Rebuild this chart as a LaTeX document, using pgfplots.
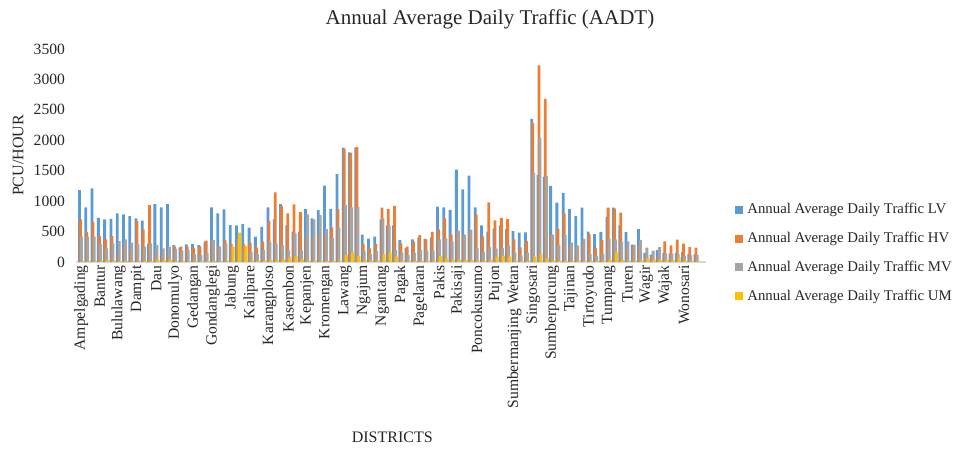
\documentclass[border=0pt]{standalone}
\usepackage{fontspec}
\setmainfont{Liberation Serif}
\usepackage{pgfplots}
\usepackage{pgfplotstable}
\pgfplotsset{compat=1.18}
\definecolor{cLV}{HTML}{5B9BD5}
\definecolor{cHV}{HTML}{ED7D31}
\definecolor{cMV}{HTML}{A5A5A5}
\definecolor{cUM}{HTML}{FFC000}
\definecolor{txt}{HTML}{262626}

\pgfplotstableread{
i LV HV MV UM
0 1180 700 415 10
1 897 497 415 10
2 1208 661 415 10
3 727 426 295 15
4 700 372 224 30
5 710 426 306 20
6 798 150 344 10
7 782 280 372 10
8 754 200 317 10
9 716 672 295 10
10 678 536 251 15
11 300 935 306 10
12 951 150 279 40
13 897 120 224 30
14 951 150 251 40
15 279 251 213 10
16 240 251 186 10
17 290 251 195 10
18 295 235 131 10
19 279 251 115 10
20 330 350 150 10
21 897 330 361 10
22 798 262 251 10
23 864 361 306 10
24 607 295 250 251
25 600 306 380 481
26 623 290 200 262
27 563 317 172 20
28 415 235 131 20
29 579 333 200 20
30 897 672 333 30
31 700 1143 306 40
32 951 924 279 44
33 600 798 191 82
34 500 946 470 98
35 500 820 191 44
36 869 400 782 20
37 716 400 700 20
38 852 450 771 20
39 1254 450 540 20
40 875 568 394 20
41 1443 869 563 20
42 1880 1864 933 112
43 1800 1788 897 153
44 1880 1891 907 98
45 450 298 186 30
46 383 224 131 20
47 415 298 180 20
48 700 894 720 126
49 600 869 596 153
50 600 924 197 87
51 361 306 153 20
52 230 251 115 20
53 372 333 150 20
54 400 443 197 20
55 380 372 190 20
56 400 497 190 20
57 910 536 372 98
58 897 716 388 60
59 858 450 333 40
60 1519 500 514 40
61 1192 450 450 30
62 1421 500 530 30
63 897 780 232 20
64 601 420 170 20
65 500 980 246 40
66 547 684 219 87
67 600 727 230 104
68 542 705 274 87
69 508 372 153 20
70 484 241 110 20
71 487 344 153 20
72 2352 2280 1465 87
73 1430 3230 2040 126
74 1400 2680 1410 55
75 1250 450 448 20
76 974 544 282 20
77 1137 795 440 20
78 869 250 317 20
79 754 241 274 20
80 895 300 378 20
81 500 454 134 20
82 456 236 104 20
83 495 358 137 20
84 740 895 385 40
85 895 878 370 158
86 600 812 333 40
87 490 250 340 20
88 284 262 284 20
89 541 250 364 20
90 150 110 238 59
91 120 100 186 40
92 197 100 243 30
93 150 339 140 40
94 137 274 137 30
95 150 366 130 71
96 164 301 98 20
97 130 246 115 20
98 130 238 115 20
}\aadt

\begin{document}
\begin{tikzpicture}
\useasboundingbox (0,0) rectangle (489.5pt,224.5pt);
\begin{axis}[
  at={(38pt,93.5pt)}, anchor=south west,
  scale only axis, width=315pt, height=106.5pt,
  xmin=-0.8, xmax=99.5, ymin=0, ymax=3500,
  ytick={0,500,...,3500},
  xtick={0,3,...,96},
  xticklabels={Ampelgading,Bantur,Bululawang,Dampit,Dau,Donomulyo,Gedangan,Gondanglegi,Jabung,Kalipare,Karangploso,Kasembon,Kepanjen,Kromengan,Lawang,Ngajum,Ngantang,Pagak,Pagelaran,Pakis,Pakisaji,Poncokusumo,Pujon,Sumbermanjing Wetan,Singosari,Sumberpucung,Tajinan,Tirtoyudo,Tumpang,Turen,Wagir,Wajak,Wonosari},
  x tick label style={rotate=90, anchor=east, font=\fontsize{7.8}{9}\selectfont, text=txt, inner sep=1.5pt},
  y tick label style={font=\fontsize{7.8}{9}\selectfont, text=txt, xshift=-2pt},
  /pgf/number format/assume math mode=true,
  /pgf/number format/1000 sep={},
  major tick length=0pt,
  axis x line*=bottom, axis y line*=left,
  x axis line style={-, draw=black!15, line width=0.8pt},
  y axis line style={draw=none},
  xlabel={DISTRICTS},
  ylabel={PCU/HOUR},
  xlabel style={at={(axis description cs:0.502,-0.822)}, anchor=center, font=\fontsize{8}{9}\selectfont, text=txt},
  ylabel style={at={(axis description cs:-0.092,0.5)}, anchor=center, font=\fontsize{8}{9}\selectfont, text=txt},
  legend style={at={(axis description cs:1.046,0.297)}, anchor=north west, draw=none, fill=none,
    font=\fontsize{7.4}{8.5}\selectfont, text=txt, row sep=3.7pt, inner sep=0pt},
  legend cell align=left,
  legend image code/.code={\fill[#1] (0pt,-2pt) rectangle (4pt,2pt);},
]
\addplot[ybar, bar width=0.45, bar shift=-0.24, fill=cLV, draw=none] table[x=i,y=LV]{\aadt};
\addlegendentry{Annual Average Daily Traffic LV}
\addplot[ybar, bar width=0.45, bar shift=-0.08, fill=cHV, draw=none] table[x=i,y=HV]{\aadt};
\addlegendentry{Annual Average Daily Traffic HV}
\addplot[ybar, bar width=0.45, bar shift=0.08, fill=cMV, draw=none] table[x=i,y=MV]{\aadt};
\addlegendentry{Annual Average Daily Traffic MV}
\addplot[ybar, bar width=0.45, bar shift=0.24, fill=cUM, draw=none] table[x=i,y=UM]{\aadt};
\addlegendentry{Annual Average Daily Traffic UM}
\end{axis}
\node[font=\fontsize{10.5}{12}\selectfont, text=txt] at (245pt,215pt) {Annual Average Daily Traffic (AADT)};
\end{tikzpicture}
\end{document}
